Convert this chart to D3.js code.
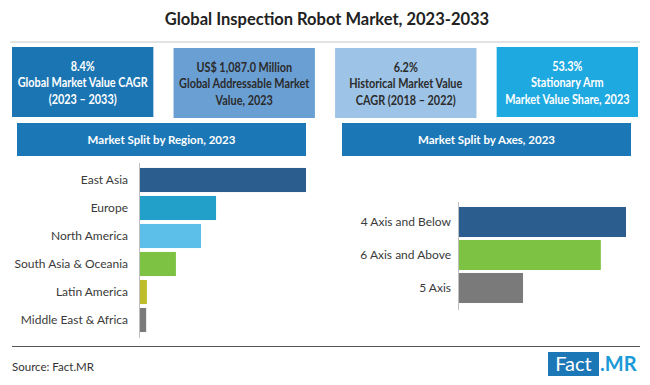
<!DOCTYPE html>
<html><head><meta charset="utf-8">
<script src="https://cdn.jsdelivr.net/npm/d3@7"></script>
<style>body{margin:0;background:#fff}svg{display:block}text{font-family:Lato,"Open Sans",sans-serif}</style>
</head><body>
<script>
const title = "Global Inspection Robot Market, 2023-2033";
const kpiLines = [
  ["8.4%", "Global Market Value CAGR", "(2023 – 2033)"],
  ["US$ 1,087.0 Million", "Global Addressable Market", "Value, 2023"],
  ["6.2%", "Historical Market Value", "CAGR (2018 – 2022)"],
  ["53.3%", "Stationary Arm", "Market Value Share, 2023"]
];
const kpiFill = ["#1b75b3", "#6a9fd3", "#9dc3e6", "#1fa9e1"];
const kpiText = ["#ffffff", "#2b2b2b", "#2b2b2b", "#ffffff"];
const regionTitle = "Market Split by Region, 2023";
const regions = ["East Asia", "Europe", "North America", "South Asia & Oceania", "Latin America", "Middle East & Africa"];
const regionValues = [46.6, 21.5, 17.3, 10.3, 2.2, 2.0];
const regionColors = ["#2c5d8f", "#23a0c9", "#5bbfe9", "#7dc243", "#bdbd2b", "#7a7a7a"];
const axesTitle = "Market Split by Axes, 2023";
const axesCats = ["4 Axis and Below", "6 Axis and Above", "5 Axis"];
const axesValues = [44.7, 38.0, 17.3];
const axesColors = ["#2c5d8f", "#7dc243", "#7a7a7a"];
const source = "Source: Fact.MR";

const svg = d3.select("body").append("svg").attr("width", 650).attr("height", 385);

svg.append("text").attr("x", 327).attr("y", 25).attr("text-anchor", "middle")
  .attr("font-size", 16.5).attr("font-weight", 700).attr("fill", "#222").text(title);
svg.append("line").attr("x1", 10).attr("x2", 640).attr("y1", 42).attr("y2", 42)
  .attr("stroke", "#c8c8c8").attr("stroke-width", 1);

// KPI boxes
const kpiX = d3.scaleBand().domain(d3.range(4)).range([12, 638]).paddingInner(0.125);
const kg = svg.selectAll("g.kpi").data(kpiLines).join("g").attr("class", "kpi")
  .attr("transform", (d, i) => `translate(${kpiX(i)},${i === 0 || i === 3 ? 47 : 48})`);
kg.append("rect").attr("width", kpiX.bandwidth()).attr("height", 70)
  .attr("fill", (d, i) => kpiFill[i]);
kg.each(function(lines, i) {
  d3.select(this).append("g")
    .attr("transform", `translate(${kpiX.bandwidth() / 2},0) scale(0.87,1)`)
    .selectAll("text").data(lines).join("text")
    .attr("x", 0).attr("y", (d, j) => 24 + j * 16.5)
    .attr("text-anchor", "middle").attr("font-size", 12.5).attr("font-weight", 700)
    .attr("fill", kpiText[i]).text(d => d);
});

// Section headers
function header(x0, x1, label) {
  svg.append("rect").attr("x", x0).attr("y", 123).attr("width", x1 - x0).attr("height", 33).attr("fill", "#1b77b6");
  svg.append("text").attr("x", (x0 + x1) / 2).attr("y", 143.5).attr("text-anchor", "middle")
    .attr("font-size", 11.5).attr("font-weight", 700).attr("fill", "#fff").text(label);
}
header(17, 306, regionTitle);
header(342, 631, axesTitle);

function barChart(cats, vals, cols, x0, x1, yr, padIn, padOut, axisY, labelX, fs) {
  const x = d3.scaleLinear().domain([0, d3.max(vals)]).range([x0, x1]);
  const y = d3.scaleBand().domain(cats).range(yr).paddingInner(padIn).paddingOuter(padOut);
  const g = svg.append("g");
  g.selectAll("rect").data(cats).join("rect")
    .attr("x", x(0)).attr("y", d => y(d)).attr("height", y.bandwidth())
    .attr("width", (d, i) => x(vals[i]) - x(0)).attr("fill", (d, i) => cols[i]);
  g.selectAll("text").data(cats).join("text")
    .attr("x", labelX).attr("y", d => y(d) + y.bandwidth() / 2).attr("dy", "0.35em")
    .attr("text-anchor", "end").attr("font-size", fs).attr("fill", "#3a3a3a").text(d => d);
  g.append("line").attr("x1", x0 + 0.5).attr("x2", x0 + 0.5).attr("y1", axisY[0]).attr("y2", axisY[1])
    .attr("stroke", "#bfbfbf").attr("stroke-width", 1);
}
barChart(regions, regionValues, regionColors, 139, 306, [166, 334], 0.14, 0.07, [163, 338], 128, 12);
barChart(axesCats, axesValues, axesColors, 458, 626, [205.5, 304.5], 0.09, 0.045, [202, 310], 451, 12);

// Footer
svg.append("line").attr("x1", 12).attr("x2", 640).attr("y1", 346.5).attr("y2", 346.5)
  .attr("stroke", "#555").attr("stroke-width", 1);
svg.append("text").attr("x", 12).attr("y", 371).attr("font-size", 11.5).attr("fill", "#333").text(source);
svg.append("rect").attr("x", 548).attr("y", 352).attr("width", 51).attr("height", 24).attr("fill", "#1b77b6");
svg.append("text").attr("x", 573.5).attr("y", 371).attr("text-anchor", "middle").attr("font-size", 20)
  .attr("fill", "#fff").text("Fact");
svg.append("text").attr("x", 600).attr("y", 371).attr("font-size", 20).attr("font-weight", 700)
  .attr("fill", "#1b9ad8").text(".MR");
</script>
</body></html>
